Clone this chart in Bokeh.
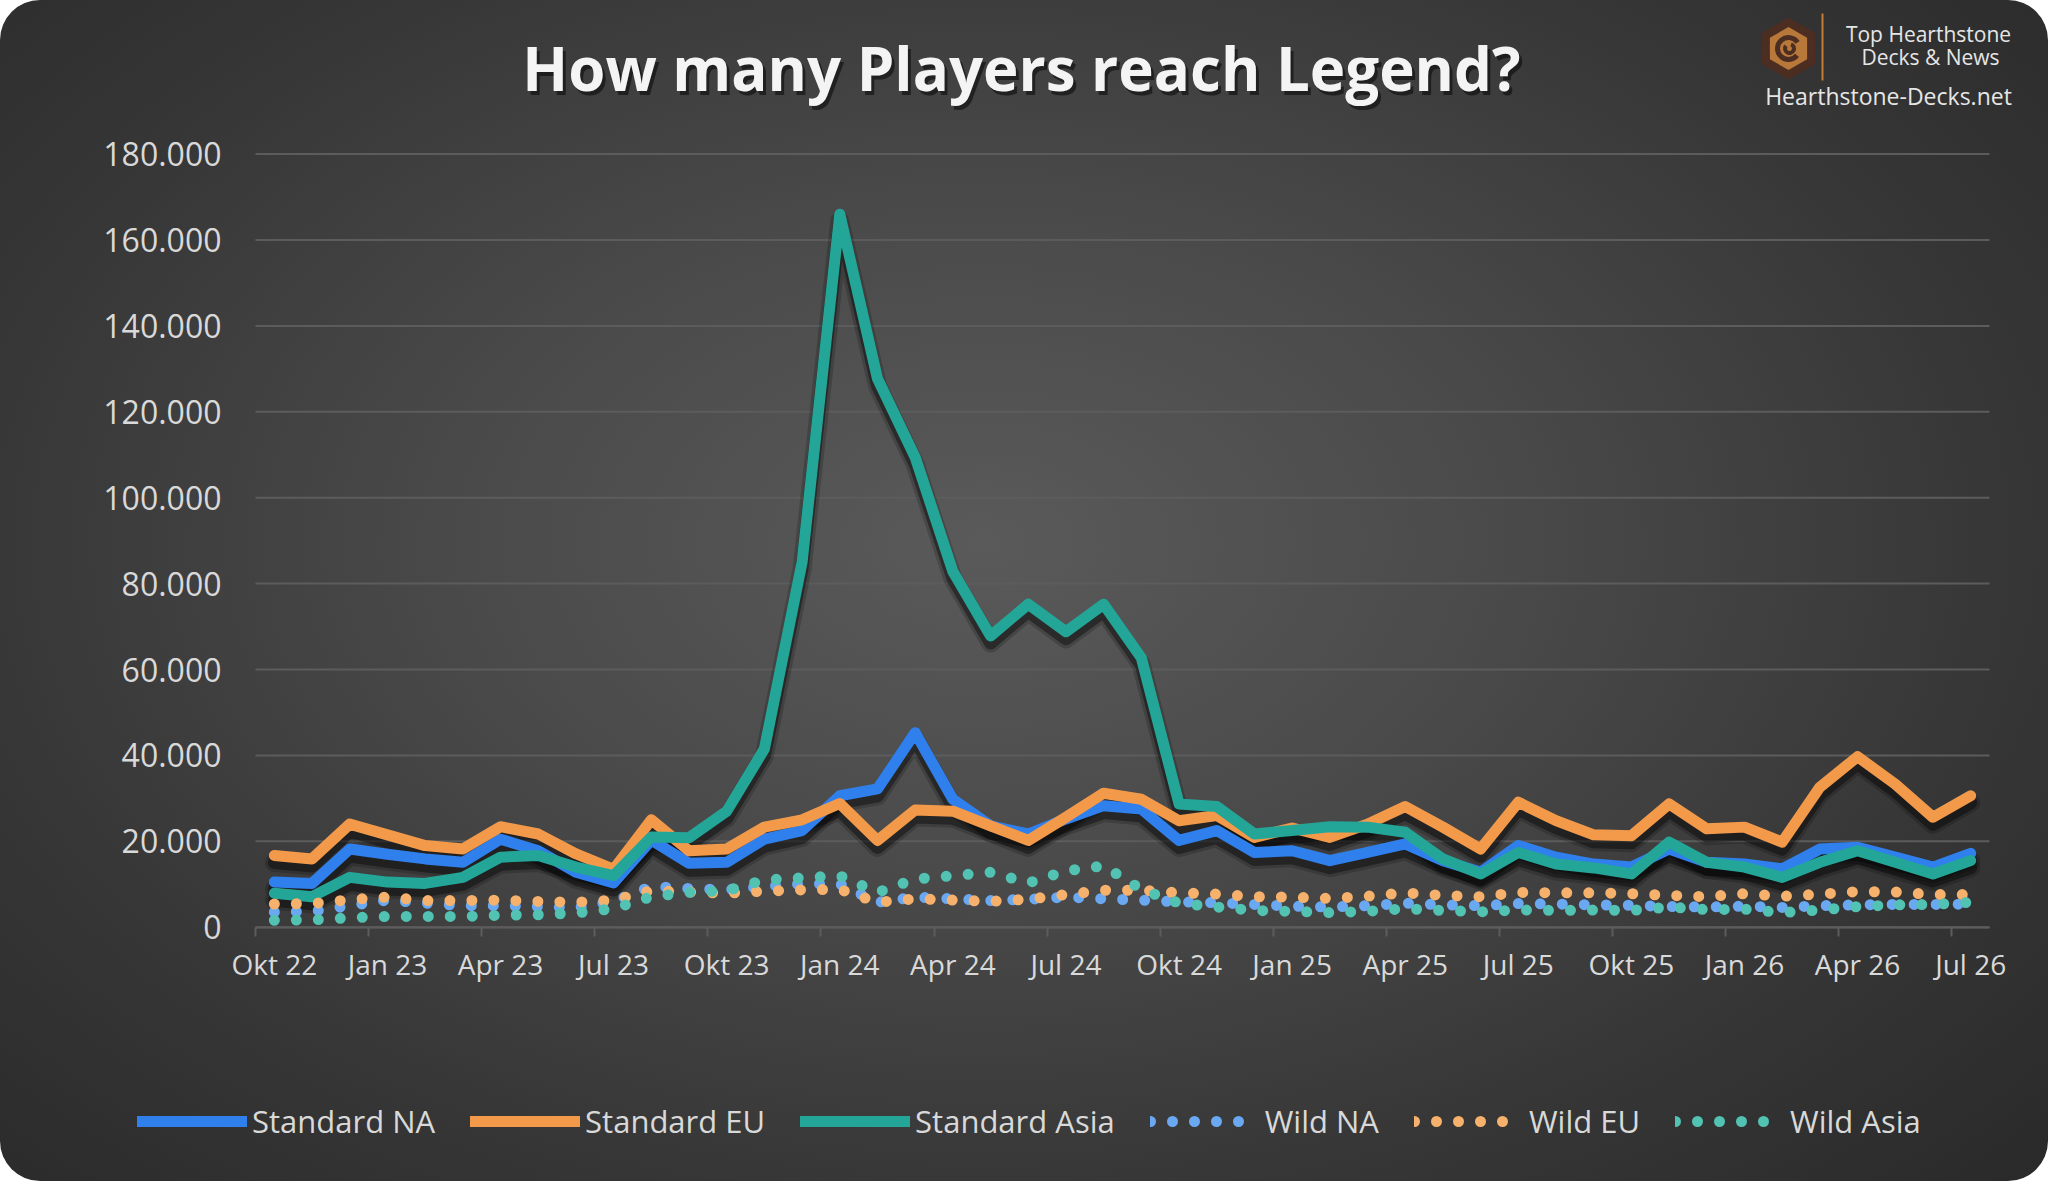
import math
from bokeh.plotting import figure
from bokeh.layouts import column
from bokeh.models import Range1d, FixedTicker, Legend, LegendItem
from bokeh.embed import file_html
from bokeh.resources import INLINE
from bokeh.core.properties import value

# ---------------- data ----------------
months = ["Okt 22", "Nov 22", "Dez 22", "Jan 23", "Feb 23", "Mär 23", "Apr 23", "Mai 23", "Jun 23", "Jul 23", "Aug 23", "Sep 23",
          "Okt 23", "Nov 23", "Dez 23", "Jan 24", "Feb 24", "Mär 24", "Apr 24", "Mai 24", "Jun 24", "Jul 24", "Aug 24", "Sep 24",
          "Okt 24", "Nov 24", "Dez 24", "Jan 25", "Feb 25", "Mär 25", "Apr 25", "Mai 25", "Jun 25", "Jul 25", "Aug 25", "Sep 25",
          "Okt 25", "Nov 25", "Dez 25", "Jan 26", "Feb 26", "Mär 26", "Apr 26", "Mai 26", "Jun 26", "Jul 26"]

standard_na = [10500, 10200, 18200, 17000, 15900, 15100, 20500, 17800, 12800, 10300,
               20300, 14900, 15100, 20500, 22500, 30600, 32200, 45300, 29800, 23600,
               21700, 25200, 28300, 27500, 20200, 22500, 17400, 17800, 15500, 17400,
               19400, 15500, 12800, 19000, 16300, 14700, 14000, 18200, 15100, 14700,
               13600, 18200, 18600, 16300, 14000, 17200]
standard_eu = [16700, 15900, 24000, 21500, 19000, 18200, 23400, 21700, 17100, 13500,
               25000, 17800, 18200, 23300, 25000, 28800, 20200, 27300, 27000, 23600,
               20200, 25600, 31200, 29800, 24800, 26000, 20900, 23100, 20900, 24000,
               28100, 23300, 18200, 29100, 24800, 21500, 21300, 28700, 22900, 23300,
               19800, 32600, 39700, 33300, 25600, 30600]
standard_asia = [7900, 7100, 11600, 10500, 10200, 11600, 16300, 16700, 14000, 12000,
                 21000, 20800, 27000, 41500, 85000, 166000, 127700, 109400, 82800, 67800,
                 75200, 68800, 75200, 62700, 28700, 28100, 21700, 22500, 23400, 23300,
                 22100, 15900, 12400, 17400, 14700, 13800, 12400, 19800, 15100, 14000,
                 11600, 15100, 17800, 15100, 12400, 15500]
wild_na = [3500, 3700, 5000, 6300, 5600, 5000, 5000, 4800, 4500, 6000,
           9500, 9000, 8700, 9500, 10100, 10100, 5800, 7000, 6600, 6200,
           6500, 7000, 6600, 6300, 5900, 5700, 5300, 4900, 4700, 5000,
           5600, 5200, 5000, 5500, 5400, 5200, 5100, 4800, 4700, 4900,
           4600, 5000, 5200, 5300, 5300, 5400]
wild_eu = [5400, 5500, 6400, 7000, 6200, 6200, 6300, 6000, 5800, 6300,
           8500, 8200, 7900, 8400, 8700, 8800, 5800, 6600, 6300, 6000,
           6500, 7600, 8600, 8600, 8000, 7700, 7100, 7000, 6700, 7200,
           8000, 7400, 7100, 8100, 8000, 8000, 7800, 7400, 7100, 7800,
           7200, 7700, 8300, 8200, 7600, 7600]
wild_asia = [1600, 1700, 2200, 2500, 2500, 2500, 2800, 2900, 3300, 4300,
             7100, 8100, 8500, 11000, 11500, 12000, 8100, 11200, 12000, 12800,
             10300, 13100, 14300, 8800, 5600, 4700, 3900, 3700, 3400, 3700,
             4300, 3900, 3600, 4000, 3900, 4000, 3900, 4700, 4100, 4200,
             3400, 4000, 4800, 5200, 5300, 5800]

series_names = ["Standard NA", "Standard EU", "Standard Asia", "Wild NA", "Wild EU", "Wild Asia"]
y_ticks = [0, 20000, 40000, 60000, 80000, 100000, 120000, 140000, 160000, 180000]
y_tick_labels = ["0", "20.000", "40.000", "60.000", "80.000", "100.000", "120.000", "140.000", "160.000", "180.000"]

title_text = "How many Players reach Legend?"
logo_lines = ["Top Hearthstone", "Decks & News"]
logo_url = "Hearthstone-Decks.net"

# ---------------- layout / style (canvas pixels) ----------------
W, H = 2048, 1181
HH = 120                        # header height
MAIN_FRAME_BOTTOM = 1000        # canvas y where the main frame ends
MB = 70                         # main bottom border (x-axis panel)
FH = H - MAIN_FRAME_BOTTOM - MB # footer height
MH = H - HH - FH                # main figure height
LB = 90                         # common left border (frames are aligned)
GL, GR = 255, 1989              # canvas x of -0.5 and n-0.5
Y0, Y180 = 926.7, 153.6         # canvas y of 0 and 180000
YMAX = 180000
FONT = "Open Sans"
TXT = "#d9d9d9"
GRID = "#5c5c5c"

colors = ["#2f80ec", "#f39a4a", "#23a698", "#6aa9f2", "#f6b26c", "#52c2b2"]
STD_W, WILD_W, DOTS = 11, 11, "0 22"


def bare(fig):
    fig.grid.visible = False
    return fig


# ---------------- header (title + logo) ----------------
hd = bare(figure(width=W, height=HH, output_backend="svg", toolbar_location=None, title=None,
                 x_range=Range1d(LB, W), y_range=Range1d(HH, 0),
                 min_border_left=LB, min_border_right=0, min_border_top=0, min_border_bottom=0,
                 x_axis_location=None, y_axis_location=None,
                 border_fill_alpha=0, background_fill_alpha=0, outline_line_color=None))

hd.text(x=[1024], y=[71], text=[title_text], text_align="center", text_baseline="middle",
        text_font=value(FONT), text_font_style="bold", text_font_size="60px",
        text_color="black", text_alpha=0.5)
hd.text(x=[1021], y=[67], text=[title_text], text_align="center", text_baseline="middle",
        text_font=value(FONT), text_font_style="bold", text_font_size="60px", text_color="#f4f4f4")

hd.scatter(x=[1788], y=[48], marker="hex", size=62, angle=math.pi / 2,
           fill_color="#4b2d22", line_color=None)
hd.scatter(x=[1788], y=[48], marker="hex", size=43, angle=math.pi / 2,
           fill_color="#b7783a", line_color=None)
hd.arc(x=[1788], y=[48], radius=11, start_angle=0.6, end_angle=5.6,
       line_color="#4b2d22", line_width=5)
hd.arc(x=[1789], y=[48], radius=4.5, start_angle=2.5, end_angle=7.5,
       line_color="#4b2d22", line_width=4)
hd.segment(x0=[1822], y0=[13], x1=[1822], y1=[80], line_color="#c27c33", line_width=2)
hd.text(x=[1928, 1930], y=[33, 56], text=logo_lines, text_align="center", text_baseline="middle",
        text_font=value(FONT), text_font_size="21px", text_color="#e6e6e6")
hd.text(x=[1888], y=[95], text=[logo_url], text_align="center", text_baseline="middle",
        text_font=value(FONT), text_font_size="23px", text_color="#e6e6e6")

# ---------------- main chart ----------------
n = len(months)
x = list(range(n))
k = (GR - GL) / n                       # px per month
s = (Y0 - Y180) / YMAX                  # px per player
x_start = -0.5 - (GL - LB) / k
x_end = n - 0.5 + (W - GR) / k
y_end = (Y0 - HH) / s
y_start = -(MAIN_FRAME_BOTTOM - Y0) / s

p = figure(width=W, height=MH, output_backend="svg", toolbar_location=None, title=None,
           x_range=Range1d(x_start, x_end), y_range=Range1d(y_start, y_end),
           min_border_left=LB, min_border_right=0, min_border_top=0, min_border_bottom=MB,
           border_fill_alpha=0, background_fill_alpha=0, outline_line_color=None)
p.grid.visible = False

delta = 7 / s
p.extra_y_ranges = {"shadow": Range1d(y_start + delta, y_end + delta)}

# horizontal grid lines across the category range
p.segment(x0=[-0.5] * len(y_ticks), x1=[n - 0.5] * len(y_ticks), y0=y_ticks, y1=y_ticks,
          line_color=GRID, line_width=2)

major_pos = list(range(0, n, 3))
p.xaxis.ticker = FixedTicker(ticks=major_pos, minor_ticks=[i - 0.5 for i in major_pos])
p.xaxis.major_label_overrides = {i: months[i] for i in major_pos}
p.xaxis.fixed_location = 0
p.xaxis.bounds = (-0.5, n - 0.5)
p.xaxis.axis_line_color = GRID
p.xaxis.axis_line_width = 2
p.xaxis.major_tick_line_color = None
p.xaxis.minor_tick_line_color = GRID
p.xaxis.minor_tick_line_width = 2
p.xaxis.minor_tick_out = 9
p.xaxis.minor_tick_in = 0
p.xaxis.major_label_standoff = 9
p.xaxis.major_label_text_font = FONT
p.xaxis.major_label_text_font_size = "28px"
p.xaxis.major_label_text_color = TXT

# y axis drawn inside the frame: labels right-aligned at canvas x=221
p.yaxis.ticker = FixedTicker(ticks=y_ticks)
p.yaxis.major_label_overrides = {t: l for t, l in zip(y_ticks, y_tick_labels)}
p.yaxis.fixed_location = -0.5 - (GL - 181) / k
p.yaxis.major_label_standoff = -40
p.yaxis.axis_line_color = None
p.yaxis.major_tick_line_color = None
p.yaxis.minor_tick_line_color = None
p.yaxis.major_tick_out = 0
p.yaxis.major_tick_in = 0
p.yaxis.major_label_text_font = FONT
p.yaxis.major_label_text_font_size = "32px"
p.yaxis.major_label_text_color = TXT

std = [standard_na, standard_eu, standard_asia]
wild = [wild_na, wild_eu, wild_asia]

for ys in std:
    p.line(x, ys, y_range_name="shadow", line_color="black", line_alpha=0.18, line_width=19,
           line_join="round", line_cap="round")
    p.line(x, ys, y_range_name="shadow", line_color="black", line_alpha=0.38, line_width=13,
           line_join="round", line_cap="round")
for ys, c in zip(std, colors[:3]):
    p.line(x, ys, line_color=c, line_width=STD_W, line_join="round", line_cap="round")
for ys, c in zip(wild, colors[3:]):
    p.line(x, ys, line_color=c, line_width=WILD_W, line_dash=DOTS, line_cap="round")

# ---------------- footer (legend) ----------------
ft = bare(figure(width=W, height=FH, output_backend="svg", toolbar_location=None, title=None,
                 x_range=Range1d(LB, W), y_range=Range1d(0, FH),
                 min_border_left=LB, min_border_right=0, min_border_top=0, min_border_bottom=0,
                 x_axis_location=None, y_axis_location=None,
                 border_fill_alpha=0, background_fill_alpha=0, outline_line_color=None))
# legend carriers: same series, styled like the chart (they fall outside this strip's view)
proxies = []
for i, (ys, c) in enumerate(zip(std + wild, colors)):
    if i < 3:
        proxies.append(ft.line(x, ys, line_color=c, line_width=STD_W, line_cap="round"))
    else:
        proxies.append(ft.line(x, ys, line_color=c, line_width=WILD_W, line_dash=DOTS, line_cap="round"))

legend = Legend(items=[LegendItem(label=nm, renderers=[r]) for nm, r in zip(series_names, proxies)],
                orientation="horizontal", location=(137 - LB, FH - 72),
                background_fill_alpha=0, border_line_color=None,
                label_text_font=FONT, label_text_font_size="31px", label_text_color=TXT,
                glyph_width=110, glyph_height=30, label_height=30, label_standoff=5,
                spacing=35, padding=0, margin=0)
ft.add_layout(legend)

page = column(hd, p, ft, spacing=0,
              styles={"background": "radial-gradient(ellipse 72% 80% at 48% 46%, #5a5a5a 0%, #4a4a4a 35%, #363636 70%, #292929 100%)",
                      "border-radius": "40px", "overflow": "hidden"})

open("out.html", "w").write(file_html(page, INLINE))
